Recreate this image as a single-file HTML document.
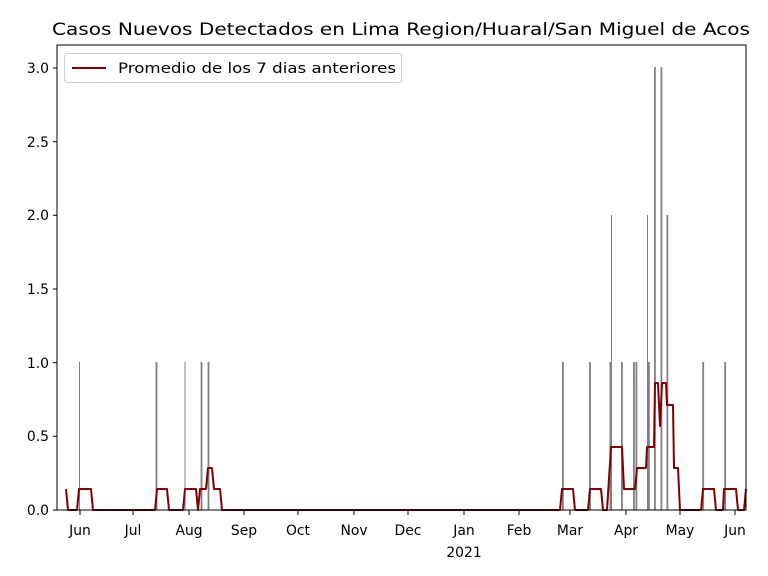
<!DOCTYPE html>
<html><head><meta charset="utf-8"><style>body{margin:0;background:#fff}svg{display:block;font-family:"DejaVu Sans","Liberation Sans",sans-serif}</style></head><body>
<svg width="768" height="576" viewBox="0 0 768 576">
<rect width="768" height="576" fill="#fff"/>
<text x="52" y="35" font-size="16.7" textLength="698" lengthAdjust="spacingAndGlyphs" fill="#000">Casos Nuevos Detectados en Lima Region/Huaral/San Miguel de Acos</text>
<g fill="#808080">
<rect x="79" y="362" width="1" height="148"/>
<rect x="155.6" y="362" width="1.8" height="148"/>
<rect x="184.5" y="362" width="1" height="148"/>
<rect x="200.6" y="362" width="1.8" height="148"/>
<rect x="207.6" y="362" width="1.8" height="148"/>
<rect x="562" y="362" width="1.8" height="148"/>
<rect x="589.1" y="362" width="1.8" height="148"/>
<rect x="609.5" y="362" width="1.8" height="148"/>
<rect x="611" y="215" width="1" height="295"/>
<rect x="621" y="362" width="1.8" height="148"/>
<rect x="633" y="362" width="1.8" height="148"/>
<rect x="635.5" y="362" width="1.8" height="148"/>
<rect x="647" y="215" width="1" height="295"/>
<rect x="648" y="362" width="1.8" height="148"/>
<rect x="654" y="67" width="1.8" height="443"/>
<rect x="660.5" y="67" width="1.8" height="443"/>
<rect x="666.5" y="215" width="1.8" height="295"/>
<rect x="702.3" y="362" width="1.8" height="148"/>
<rect x="724.3" y="362" width="1.8" height="148"/>
</g>
<polyline fill="none" stroke="#800000" stroke-width="2" stroke-linejoin="round" points="66,489 68,510 77,510 79,489 91,489 93,510 155,510 157,489 167,489 169,510 183,510 185,489 196,489 198,510 200,489 206,489 208,468 212,468 214,489 220,489 222,510 560,510 562,489 573,489 575,510 588,510 590,489 601,489 603,510 607,510 611,447 622,447 624,489 635,489 637,468 646,468 647,447 654,447 655,383 658,383 660,426 662,383 666,383 667,405 673,405 674,468 678,468 680,510 701,510 703,489 714,489 716,510 723,510 724,489 736,489 738,510 744,510 746,489"/>
<rect x="57" y="45" width="689" height="465" fill="none" stroke="#000" stroke-width="1"/>
<g stroke="#000" stroke-width="1">
<line x1="57" y1="510" x2="53" y2="510"/><line x1="57" y1="436.3" x2="53" y2="436.3"/><line x1="57" y1="362.7" x2="53" y2="362.7"/><line x1="57" y1="289" x2="53" y2="289"/><line x1="57" y1="215.3" x2="53" y2="215.3"/><line x1="57" y1="141.7" x2="53" y2="141.7"/><line x1="57" y1="68" x2="53" y2="68"/>
<line x1="80" y1="510" x2="80" y2="515"/><line x1="133" y1="510" x2="133" y2="515"/><line x1="189" y1="510" x2="189" y2="515"/><line x1="244" y1="510" x2="244" y2="515"/><line x1="298" y1="510" x2="298" y2="515"/><line x1="354" y1="510" x2="354" y2="515"/><line x1="408" y1="510" x2="408" y2="515"/><line x1="464" y1="510" x2="464" y2="515"/><line x1="519" y1="510" x2="519" y2="515"/><line x1="570" y1="510" x2="570" y2="515"/><line x1="626" y1="510" x2="626" y2="515"/><line x1="680" y1="510" x2="680" y2="515"/><line x1="735" y1="510" x2="735" y2="515"/>
</g>
<g font-size="13.9" fill="#000" text-anchor="end">
<text x="49" y="515">0.0</text><text x="49" y="441">0.5</text><text x="49" y="368">1.0</text><text x="49" y="294">1.5</text><text x="49" y="220">2.0</text><text x="49" y="147">2.5</text><text x="49" y="73">3.0</text>
</g>
<g font-size="13.9" fill="#000" text-anchor="middle">
<text x="80" y="535">Jun</text><text x="133" y="535">Jul</text><text x="189" y="535">Aug</text><text x="244" y="535">Sep</text><text x="298" y="535">Oct</text><text x="354" y="535">Nov</text><text x="408" y="535">Dec</text><text x="464" y="535">Jan</text><text x="519" y="535">Feb</text><text x="570" y="535">Mar</text><text x="626" y="535">Apr</text><text x="680" y="535">May</text><text x="735" y="535">Jun</text>
<text x="464" y="557">2021</text>
</g>
<rect x="64.5" y="53.5" width="337" height="29" rx="3" fill="#fff" stroke="#ccc"/>
<line x1="72" y1="68" x2="106" y2="68" stroke="#800000" stroke-width="2"/>
<text x="118" y="73" font-size="13.9" textLength="278" lengthAdjust="spacingAndGlyphs" fill="#000">Promedio de los 7 dias anteriores</text>
</svg>
</body></html>
